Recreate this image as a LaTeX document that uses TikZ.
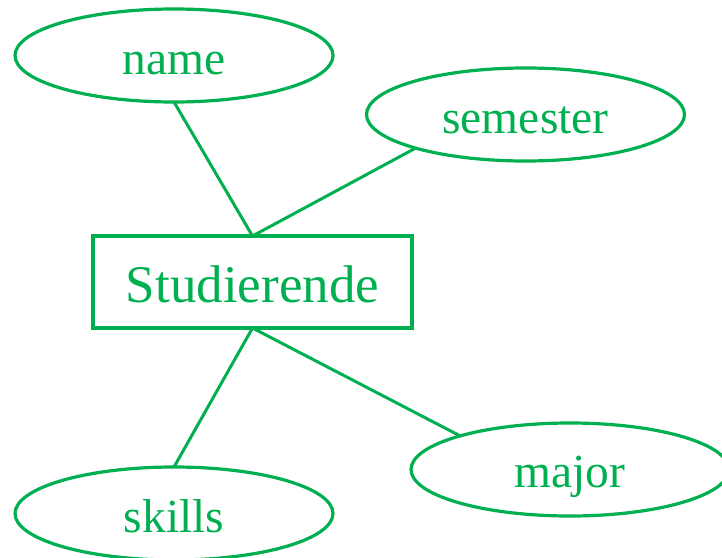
\documentclass[tikz,border=0pt]{standalone}
\usepackage{fontspec}
\setmainfont{Liberation Serif}
\usetikzlibrary{shapes.geometric}
\definecolor{ergreen}{HTML}{00B050}
\tikzset{
  attr/.style={ellipse, draw=ergreen, line width=3.2pt, text=ergreen,
    minimum width=318pt, minimum height=93pt, inner sep=0pt, outer sep=0pt,
    text height=37pt, text depth=0pt, font=\fontsize{47.5}{50}\selectfont},
  entity/.style={rectangle, draw=ergreen, line width=3.2pt, text=ergreen,
    minimum width=319pt, minimum height=92pt, inner sep=0pt, outer sep=0pt,
    text height=40pt, text depth=0pt, font=\fontsize{53}{56}\selectfont},
  conn/.style={draw=ergreen, line width=3pt}
}
\begin{document}
\begin{tikzpicture}[x=1pt,y=-1pt]
\useasboundingbox (0,0) rectangle (722,557);
\node[entity] (stud) at (252.5,282) {Studierende};
\node[attr] (name) at (174,55.5) {name};
\node[attr] (sem) at (525.5,114.5) {semester};
\node[attr, text height=35pt] (major) at (570,469.5) {major};
\node[attr] (skills) at (174,513.5) {skills};
\draw[conn] (name.south) -- (stud.north);
\draw[conn] (sem.197) -- (stud.north);
\draw[conn] (stud.south) -- (skills.north);
\draw[conn] (stud.south) -- (major.163);
\end{tikzpicture}
\end{document}
